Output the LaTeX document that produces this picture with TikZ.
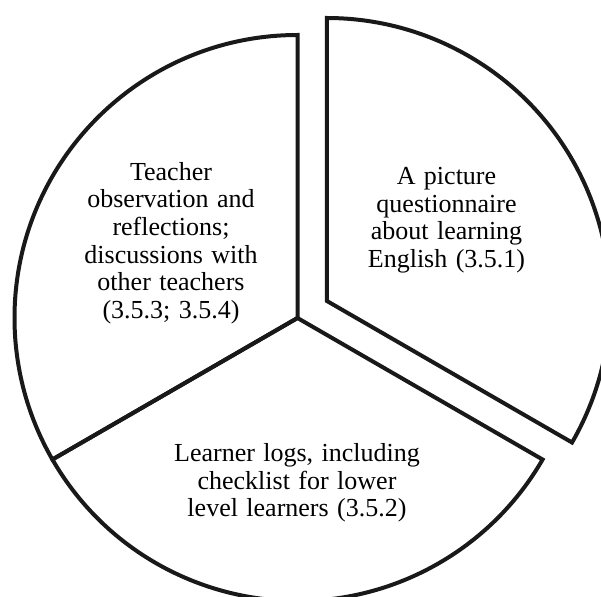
\documentclass[tikz,border=0pt]{standalone}
\usepackage{fontspec}
\setmainfont[WordSpace=1.3]{Liberation Serif}
\usetikzlibrary{calc}
\begin{document}
\begin{tikzpicture}[x=1pt,y=1pt,
  pie/.style={draw=black!90, line width=4pt, line join=miter},
  lbl/.style={align=center, font=\fontsize{26}{27.6}\selectfont, inner sep=0pt}]
\useasboundingbox (0,-596) rectangle (601,0);
\coordinate (O) at (297.5,-318);
% left sector
\draw[pie] (O) -- ++(90:283pt) arc[start angle=90, end angle=210, radius=283pt] -- cycle;
% bottom sector
\draw[pie] (O) -- ++(210:283pt) arc[start angle=210, end angle=330, radius=283pt] -- cycle;
% exploded right sector
\coordinate (E) at ($(O)+(30:34pt)$);
\draw[pie] (E) -- ++(-30:283pt) arc[start angle=-30, end angle=90, radius=283pt] -- cycle;
\node[lbl] (t1) at (171,-243) {Teacher\\observation and\\reflections;\\discussions with\\other teachers\\(3.5.3; 3.5.4)};
\node[lbl] (t2) at (446.5,-220) {A picture\\questionnaire\\about learning\\English (3.5.1)};
\node[lbl] (t3) at (297,-483) {Learner logs, including\\checklist for lower\\level learners (3.5.2)};
\end{tikzpicture}
\end{document}
